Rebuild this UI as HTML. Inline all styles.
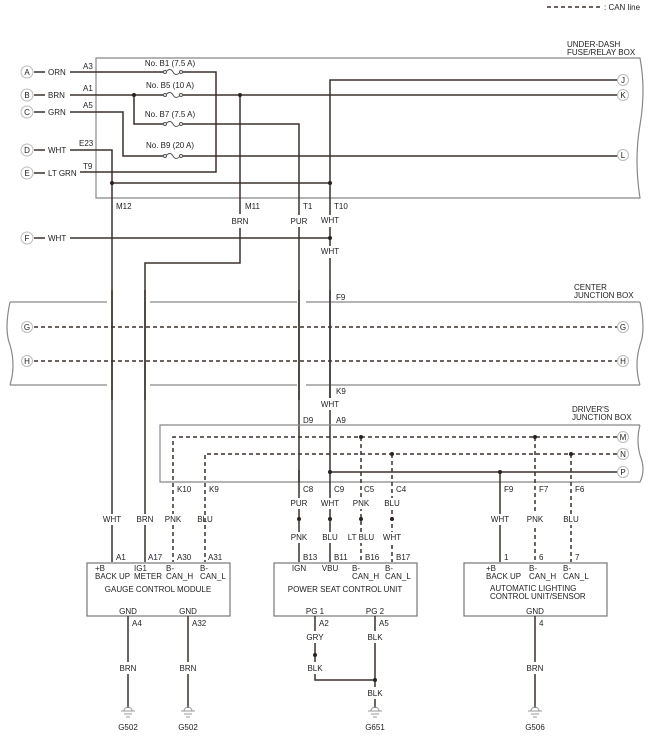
<!DOCTYPE html>
<html><head><meta charset="utf-8"><style>
html,body{margin:0;padding:0;background:#fff}
svg{display:block}
text{font-family:"Liberation Sans",Arial,sans-serif;font-size:8px;fill:#222}
.w{stroke:#3a302b;stroke-width:1.5;fill:none}
.d{stroke:#3a302b;stroke-width:1.5;fill:none;stroke-dasharray:4,3}
.b{stroke:#888;stroke-width:1.2;fill:none}
.c{fill:#fff;stroke:#bbb;stroke-width:1}
.bx{fill:#fff;stroke:#777;stroke-width:1.2}
.m{text-anchor:middle}
</style></head><body>
<svg width="658" height="756" viewBox="0 0 658 756">
<!-- legend -->
<line x1="547" y1="7" x2="600" y2="7" class="d" stroke-dasharray="4,3"/>
<text x="604" y="10">: CAN line</text>

<!-- under-dash box -->
<text x="567" y="47">UNDER-DASH</text>
<text x="567" y="55">FUSE/RELAY BOX</text>
<path class="b" d="M96,58 H640 Q646,90 640,125 Q634,160 640,198 H96 Z"/>

<!-- circles left -->
<g>
<circle class="c" cx="27" cy="72" r="6"/><text x="27" y="75" class="m">A</text>
<circle class="c" cx="27" cy="95" r="6"/><text x="27" y="98" class="m">B</text>
<circle class="c" cx="27" cy="112" r="6"/><text x="27" y="115" class="m">C</text>
<circle class="c" cx="27" cy="150" r="6"/><text x="27" y="153" class="m">D</text>
<circle class="c" cx="27" cy="173" r="6"/><text x="27" y="176" class="m">E</text>
<circle class="c" cx="27" cy="238" r="6"/><text x="27" y="241" class="m">F</text>
</g>
<g class="w">
<line x1="34" y1="72" x2="45" y2="72"/><line x1="34" y1="95" x2="45" y2="95"/>
<line x1="34" y1="112" x2="45" y2="112"/><line x1="34" y1="150" x2="45" y2="150"/>
<line x1="34" y1="173" x2="45" y2="173"/><line x1="34" y1="238" x2="45" y2="238"/>
</g>
<text x="48" y="75">ORN</text><text x="48" y="98">BRN</text><text x="48" y="115">GRN</text>
<text x="48" y="153">WHT</text><text x="48" y="176">LT GRN</text><text x="48" y="241">WHT</text>
<text x="83" y="69">A3</text><text x="83" y="91">A1</text><text x="83" y="108">A5</text>
<text x="79" y="146">E23</text><text x="83" y="169">T9</text>

<!-- fuses labels -->
<text x="170" y="66" class="m">No. B1 (7.5 A)</text>
<text x="170" y="88" class="m">No. B5 (10 A)</text>
<text x="170" y="117" class="m">No. B7 (7.5 A)</text>
<text x="170" y="148" class="m">No. B9 (20 A)</text>

<g class="w">
<!-- A loop -->
<path d="M70,72 H163 M183,72 H216 V172 H80"/>
<!-- B -->
<path d="M70,95 H163 M183,95 H622"/>
<path d="M134,95 V124 H163 M183,124 H299 V483"/>
<!-- C -->
<path d="M70,112 H123 V156 H163 M183,156 H622"/>
<!-- D -->
<path d="M70,150 H112 V562"/>
<path d="M112,183 H330"/>
<!-- J / vertical 330 -->
<path d="M622,80 H330 V472 H622"/>
<!-- BRN 240 -->
<path d="M240,95 V214 M240,228 V263 H145 V562"/>
<!-- F -->
<path d="M70,238 H330"/>
</g>
<!-- fuse symbols -->
<g stroke="#555" stroke-width="1" fill="#fff">
<path d="M163,72 h3 q4,-5 7,0 q3,5 7,0 h3" fill="none"/>
<path d="M163,95 h3 q4,-5 7,0 q3,5 7,0 h3" fill="none"/>
<path d="M163,124 h3 q4,-5 7,0 q3,5 7,0 h3" fill="none"/>
<path d="M163,156 h3 q4,-5 7,0 q3,5 7,0 h3" fill="none"/>
<circle cx="165" cy="72" r="1.5"/><circle cx="181" cy="72" r="1.5"/>
<circle cx="165" cy="95" r="1.5"/><circle cx="181" cy="95" r="1.5"/>
<circle cx="165" cy="124" r="1.5"/><circle cx="181" cy="124" r="1.5"/>
<circle cx="165" cy="156" r="1.5"/><circle cx="181" cy="156" r="1.5"/>
</g>
<!-- right circles J K L -->
<circle class="c" cx="623" cy="80" r="5.5"/><text x="623" y="83" class="m">J</text>
<circle class="c" cx="623" cy="95" r="5.5"/><text x="623" y="98" class="m">K</text>
<circle class="c" cx="623" cy="155" r="5.5"/><text x="623" y="158" class="m">L</text>

<!-- junction dots -->
<g fill="#2a2220">
<circle cx="134" cy="95" r="2"/><circle cx="240" cy="95" r="2"/>
<circle cx="112" cy="183" r="2"/><circle cx="330" cy="183" r="2"/>
<circle cx="330" cy="238" r="2"/>
</g>
<rect x="320" y="215" width="20" height="12" fill="#fff"/>
<rect x="320" y="246" width="20" height="12" fill="#fff"/>
<rect x="289" y="215" width="20" height="12" fill="#fff"/>
<text x="116" y="209">M12</text><text x="245" y="209">M11</text><text x="303" y="209">T1</text><text x="334" y="209">T10</text>
<text x="240" y="224" class="m">BRN</text><text x="299" y="224" class="m">PUR</text><text x="330" y="223" class="m">WHT</text>
<text x="330" y="254" class="m">WHT</text>

<!-- center junction box -->
<text x="574" y="290">CENTER</text><text x="574" y="298">JUNCTION BOX</text>
<path class="b" d="M10,302 H107 M150,302 H297 M306,302 H640"/>
<path class="b" d="M10,385 H107 M150,385 H297 M306,385 H640"/>
<path class="b" d="M10,302 Q4,330 10,345 Q16,365 10,385"/>
<path class="b" d="M640,302 Q646,330 640,345 Q634,365 640,385"/>
<text x="336" y="300">F9</text>
<line x1="34" y1="327" x2="617" y2="327" class="d"/>
<line x1="34" y1="361" x2="617" y2="361" class="d"/>
<circle class="c" cx="27" cy="327" r="5.5"/><text x="27" y="330" class="m">G</text>
<circle class="c" cx="27" cy="361" r="5.5"/><text x="27" y="364" class="m">H</text>
<circle class="c" cx="623" cy="327" r="5.5"/><text x="623" y="330" class="m">G</text>
<circle class="c" cx="623" cy="361" r="5.5"/><text x="623" y="364" class="m">H</text>
<line x1="112" y1="290" x2="112" y2="400" class="w"/><line x1="145" y1="290" x2="145" y2="400" class="w"/>
<line x1="299" y1="290" x2="299" y2="400" class="w"/><line x1="330" y1="290" x2="330" y2="400" class="w"/>
<text x="336" y="394">K9</text>
<rect x="320" y="398" width="20" height="12" fill="#fff"/>
<text x="330" y="407" class="m">WHT</text>
<text x="303" y="423">D9</text><text x="336" y="423">A9</text>

<!-- driver's junction box -->
<text x="572" y="412">DRIVER'S</text><text x="572" y="420">JUNCTION BOX</text>
<path class="b" d="M640,425 H160 V482 H640 Q646,470 640,455 Q636,440 640,425"/>
<path class="d" d="M617,437 H173 V562"/>
<path class="d" d="M617,454 H205 V562"/>
<path class="d" d="M361,437 V562 M392,454 V562 M535,437 V562 M571,454 V562"/>
<line x1="500" y1="472" x2="500" y2="562" class="w"/>
<line x1="330" y1="470" x2="330" y2="562" class="w"/>
<line x1="299" y1="470" x2="299" y2="562" class="w"/>
<circle class="c" cx="623" cy="437" r="5.5"/><text x="623" y="440" class="m">M</text>
<circle class="c" cx="623" cy="454" r="5.5"/><text x="623" y="457" class="m">N</text>
<circle class="c" cx="623" cy="472" r="5.5"/><text x="623" y="475" class="m">P</text>
<g fill="#2a2220">
<circle cx="361" cy="437" r="2"/><circle cx="535" cy="437" r="2"/>
<circle cx="392" cy="454" r="2"/><circle cx="571" cy="454" r="2"/>
<circle cx="330" cy="472" r="2"/><circle cx="500" cy="472" r="2"/>
<circle cx="299" cy="519" r="2"/><circle cx="330" cy="519" r="2"/><circle cx="361" cy="519" r="2"/><circle cx="392" cy="519" r="2"/>
</g>
<text x="177" y="492">K10</text><text x="209" y="492">K9</text>
<text x="303" y="492">C8</text><text x="334" y="492">C9</text><text x="364" y="492">C5</text><text x="396" y="492">C4</text>
<text x="504" y="492">F9</text><text x="539" y="492">F7</text><text x="575" y="492">F6</text>

<!-- wire color labels -->
<g fill="#fff">
<rect x="100" y="514" width="90" height="11"/><rect x="285" y="498" width="120" height="11"/>
<rect x="285" y="532" width="120" height="11"/><rect x="487" y="514" width="98" height="11"/>
</g>
<text x="112" y="522" class="m">WHT</text><text x="145" y="522" class="m">BRN</text><text x="173" y="522" class="m">PNK</text><text x="205" y="522" class="m">BLU</text>
<text x="299" y="506" class="m">PUR</text><text x="330" y="506" class="m">WHT</text><text x="361" y="506" class="m">PNK</text><text x="392" y="506" class="m">BLU</text>
<text x="299" y="540" class="m">PNK</text><text x="330" y="540" class="m">BLU</text><text x="361" y="540" class="m">LT BLU</text><text x="392" y="540" class="m">WHT</text>
<text x="500" y="522" class="m">WHT</text><text x="535" y="522" class="m">PNK</text><text x="571" y="522" class="m">BLU</text>

<text x="116" y="560">A1</text><text x="148" y="560">A17</text><text x="177" y="560">A30</text><text x="208" y="560">A31</text>
<text x="303" y="560">B13</text><text x="334" y="560">B11</text><text x="365" y="560">B16</text><text x="396" y="560">B17</text>
<text x="504" y="560">1</text><text x="539" y="560">6</text><text x="575" y="560">7</text>

<!-- gauge module -->
<rect class="bx" x="87" y="563" width="143" height="53"/>
<text x="95" y="571">+B</text><text x="95" y="579">BACK UP</text>
<text x="134" y="571">IG1</text><text x="134" y="579">METER</text>
<text x="166" y="571">B-</text><text x="166" y="579">CAN_H</text>
<text x="200" y="571">B-</text><text x="200" y="579">CAN_L</text>
<text x="158" y="592" class="m">GAUGE CONTROL MODULE</text>
<text x="128" y="614" class="m">GND</text><text x="188" y="614" class="m">GND</text>

<!-- power seat -->
<rect class="bx" x="274" y="563" width="143" height="53"/>
<text x="299" y="571" class="m">IGN</text><text x="330" y="571" class="m">VBU</text>
<text x="352" y="571">B-</text><text x="352" y="579">CAN_H</text>
<text x="385" y="571">B-</text><text x="385" y="579">CAN_L</text>
<text x="345" y="592" class="m">POWER SEAT CONTROL UNIT</text>
<text x="315" y="614" class="m">PG 1</text><text x="375" y="614" class="m">PG 2</text>

<!-- ALC -->
<rect class="bx" x="464" y="563" width="143" height="53"/>
<text x="486" y="571">+B</text><text x="486" y="579">BACK UP</text>
<text x="529" y="571">B-</text><text x="529" y="579">CAN_H</text>
<text x="563" y="571">B-</text><text x="563" y="579">CAN_L</text>
<text x="490" y="591">AUTOMATIC LIGHTING</text>
<text x="490" y="599">CONTROL UNIT/SENSOR</text>
<text x="535" y="614" class="m">GND</text>

<!-- grounds -->
<g class="w">
<path d="M128,616 V662 M128,674 V708"/>
<path d="M188,616 V662 M188,674 V708"/>
<path d="M315,616 V631 M315,643 V662 M315,674 V680 H375 M375,616 V631 M375,643 V687 M375,699 V708"/>
<path d="M535,616 V662 M535,674 V708"/>
</g>
<g fill="#2a2220"><circle cx="315" cy="655" r="2"/><circle cx="375" cy="680" r="2"/></g>
<g stroke="#999" stroke-width="1" fill="none">
<path d="M124,711 a4,4 0 0 1 8,0 M121,711 h14 M124,714 h8 M126,717 h4"/>
<path d="M184,711 a4,4 0 0 1 8,0 M181,711 h14 M184,714 h8 M186,717 h4"/>
<path d="M371,711 a4,4 0 0 1 8,0 M368,711 h14 M371,714 h8 M373,717 h4"/>
<path d="M531,711 a4,4 0 0 1 8,0 M528,711 h14 M531,714 h8 M533,717 h4"/>
</g>
<text x="132" y="626">A4</text><text x="192" y="626">A32</text>
<text x="319" y="626">A2</text><text x="379" y="626">A5</text><text x="539" y="626">4</text>
<text x="315" y="640" class="m">GRY</text><text x="375" y="640" class="m">BLK</text>
<text x="128" y="671" class="m">BRN</text><text x="188" y="671" class="m">BRN</text>
<text x="315" y="671" class="m">BLK</text><text x="535" y="671" class="m">BRN</text>
<text x="375" y="696" class="m">BLK</text>
<text x="128" y="730" class="m">G502</text><text x="188" y="730" class="m">G502</text>
<text x="375" y="730" class="m">G651</text><text x="535" y="730" class="m">G506</text>
</svg>
</body></html>
